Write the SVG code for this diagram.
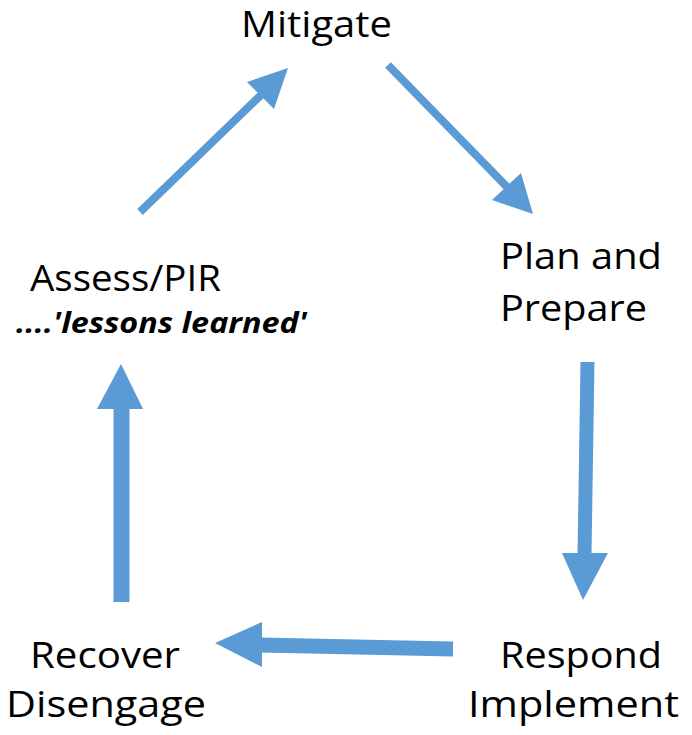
<svg xmlns="http://www.w3.org/2000/svg" width="692" height="735" viewBox="0 0 692 735">
<style>
.lbl{font-family:"Open Sans","Liberation Sans",sans-serif;font-size:36px;fill:#000}
.sub{font-family:"Open Sans","Liberation Sans",sans-serif;font-size:28px;font-weight:bold;font-style:italic;fill:#000}
.shaft{stroke:#5B9BD5;fill:none;stroke-linecap:butt}
.head{fill:#5B9BD5}
</style>
<rect width="692" height="735" fill="#fff"/>
<g id="connectors">
<line class="shaft" x1="140" y1="212" x2="262" y2="94" stroke-width="8"/>
<polygon class="head" points="247,82 274,109 288,68"/>
<line class="shaft" x1="388" y1="65" x2="508" y2="188" stroke-width="8"/>
<polygon class="head" points="492,200 521,173 533,214"/>
<line class="shaft" x1="587.5" y1="362" x2="584.5" y2="555" stroke-width="14"/>
<polygon class="head" points="562,553 608,553 583,600"/>
<line class="shaft" x1="453" y1="649" x2="260" y2="645" stroke-width="15"/>
<polygon class="head" points="262,622 262,667 215,643"/>
<line class="shaft" x1="121.5" y1="602" x2="121.5" y2="407" stroke-width="16"/>
<polygon class="head" points="97,409 143,409 121,364"/>
</g>
<g id="mitigate"><text class="lbl" x="241" y="37" textLength="151" lengthAdjust="spacingAndGlyphs">Mitigate</text></g>
<g id="plan"><text class="lbl" x="500" y="269" textLength="162" lengthAdjust="spacingAndGlyphs">Plan and</text><text class="lbl" x="500" y="321" textLength="147" lengthAdjust="spacingAndGlyphs">Prepare</text></g>
<g id="respond"><text class="lbl" x="500" y="668" textLength="162" lengthAdjust="spacingAndGlyphs">Respond</text><text class="lbl" x="468" y="717" textLength="211" lengthAdjust="spacingAndGlyphs">Implement</text></g>
<g id="recover"><text class="lbl" x="30" y="668" textLength="150" lengthAdjust="spacingAndGlyphs">Recover</text><text class="lbl" x="6" y="717" textLength="200" lengthAdjust="spacingAndGlyphs">Disengage</text></g>
<g id="assess"><text class="lbl" x="30" y="291" textLength="191" lengthAdjust="spacingAndGlyphs">Assess/PIR</text><text class="sub" x="16" y="333" textLength="291" lengthAdjust="spacingAndGlyphs">....'lessons learned'</text></g>
</svg>
